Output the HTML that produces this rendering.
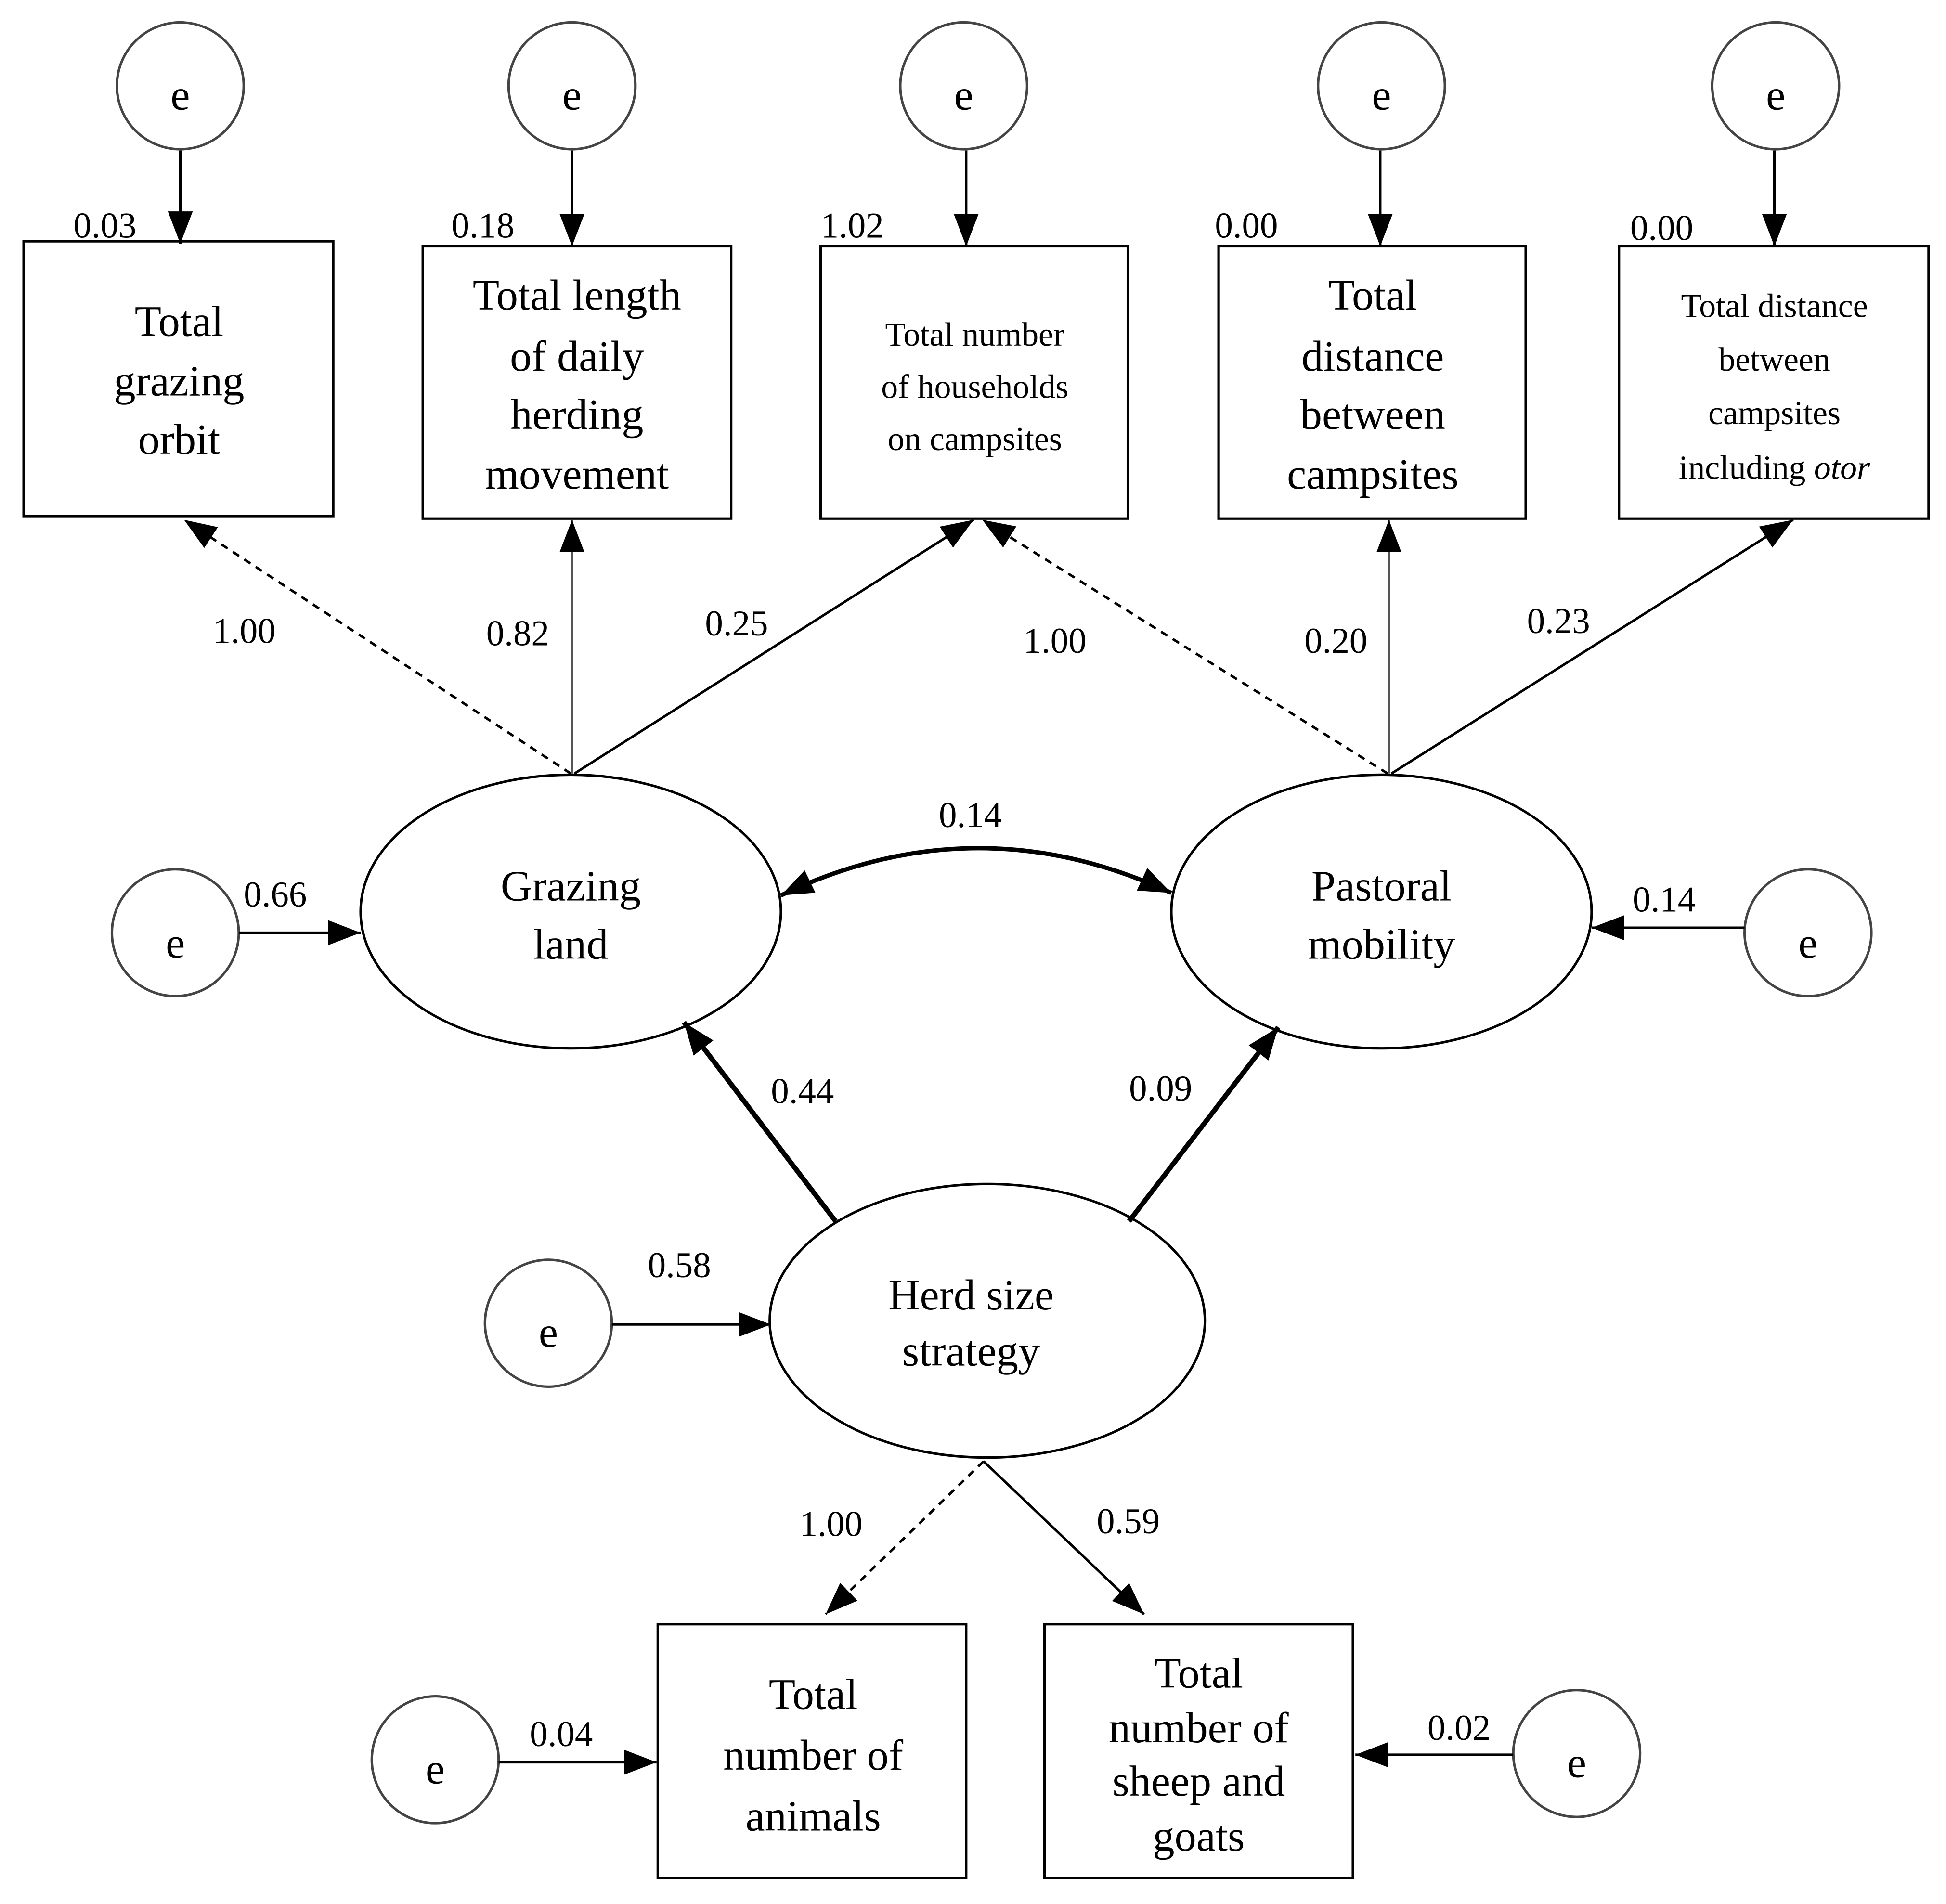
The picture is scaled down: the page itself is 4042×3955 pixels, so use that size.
<!DOCTYPE html>
<html><head><meta charset="utf-8"><style>
html,body{margin:0;padding:0;background:#fff;}
svg{display:block;}
text{font-family:"Liberation Serif",serif;fill:#000;}
.n{font-size:29px;}
.b{font-size:35px;text-anchor:middle;}
.s{font-size:27px;text-anchor:middle;}
</style></head><body>
<svg width="4042" height="3955" viewBox="0 0 1565 1531" preserveAspectRatio="none" xmlns="http://www.w3.org/2000/svg">
<defs>
<marker id="a" markerUnits="userSpaceOnUse" markerWidth="30" markerHeight="24" refX="26" refY="10" orient="auto"><path d="M0,0 L26,10 L0,20 Z" fill="#000"/></marker>
<marker id="as" markerUnits="userSpaceOnUse" markerWidth="30" markerHeight="24" refX="26" refY="10" orient="auto-start-reverse"><path d="M0,0 L26,10 L0,20 Z" fill="#000"/></marker>
</defs>
<g fill="none" stroke="#000" stroke-width="2">
<!-- top e circles -->
<circle cx="145" cy="69" r="51" stroke="#444"/>
<circle cx="460" cy="69" r="51" stroke="#444"/>
<circle cx="775" cy="69" r="51" stroke="#444"/>
<circle cx="1111" cy="69" r="51" stroke="#444"/>
<circle cx="1428" cy="69" r="51" stroke="#444"/>
<line x1="145" y1="121" x2="145" y2="196" marker-end="url(#a)"/>
<line x1="460" y1="121" x2="460" y2="198" marker-end="url(#a)"/>
<line x1="777" y1="121" x2="777" y2="198" marker-end="url(#a)"/>
<line x1="1110" y1="121" x2="1110" y2="198" marker-end="url(#a)"/>
<line x1="1427" y1="121" x2="1427" y2="198" marker-end="url(#a)"/>
<!-- top boxes -->
<rect x="19" y="194" width="249" height="221"/>
<rect x="340" y="198" width="248" height="219"/>
<rect x="660" y="198" width="247" height="219"/>
<rect x="980" y="198" width="247" height="219"/>
<rect x="1302" y="198" width="249" height="219"/>
<!-- ellipses -->
<ellipse cx="459" cy="733" rx="169" ry="110"/>
<ellipse cx="1111" cy="733" rx="169" ry="110"/>
<ellipse cx="794" cy="1062" rx="175" ry="110"/>
<!-- loadings top -->
<line x1="459" y1="622" x2="148" y2="418" stroke-dasharray="6,5" marker-end="url(#a)"/>
<line x1="460" y1="622" x2="460" y2="418" stroke="#555" marker-end="url(#a)"/>
<line x1="462" y1="622" x2="783" y2="418" marker-end="url(#a)"/>
<line x1="1116" y1="622" x2="790" y2="418" stroke-dasharray="6,5" marker-end="url(#a)"/>
<line x1="1117" y1="622" x2="1117" y2="418" stroke="#555" marker-end="url(#a)"/>
<line x1="1119" y1="622" x2="1442" y2="418" marker-end="url(#a)"/>
<!-- covariance -->
<path d="M628,720 Q785,645 942,718" stroke-width="3.5" marker-start="url(#as)" marker-end="url(#a)"/>
<!-- side e -->
<circle cx="141" cy="750" r="51" stroke="#444"/>
<line x1="192" y1="750" x2="290" y2="750" marker-end="url(#a)"/>
<circle cx="1454" cy="750" r="51" stroke="#444"/>
<line x1="1403" y1="746" x2="1280" y2="746" marker-end="url(#a)"/>
<!-- herd paths -->
<line x1="672" y1="982" x2="550" y2="822" stroke-width="4" marker-end="url(#a)"/>
<line x1="908" y1="982" x2="1028" y2="826" stroke-width="4" marker-end="url(#a)"/>
<circle cx="441" cy="1064" r="51" stroke="#444"/>
<line x1="492" y1="1065" x2="620" y2="1065" marker-end="url(#a)"/>
<line x1="791" y1="1175" x2="664" y2="1298" stroke-dasharray="6,5" marker-end="url(#a)"/>
<line x1="791" y1="1175" x2="920" y2="1298" marker-end="url(#a)"/>
<!-- bottom boxes -->
<rect x="529" y="1306" width="248" height="204"/>
<rect x="840" y="1306" width="248" height="204"/>
<circle cx="350" cy="1415" r="51" stroke="#444"/>
<line x1="401" y1="1417" x2="528" y2="1417" marker-end="url(#a)"/>
<circle cx="1268" cy="1410" r="51" stroke="#444"/>
<line x1="1217" y1="1411" x2="1090" y2="1411" marker-end="url(#a)"/>
</g>
<!-- e labels -->
<g class="b">
<text x="145" y="88">e</text><text x="460" y="88">e</text><text x="775" y="88">e</text><text x="1111" y="88">e</text><text x="1428" y="88">e</text>
<text x="141" y="770">e</text><text x="1454" y="770">e</text><text x="441" y="1083">e</text>
<text x="350" y="1434">e</text><text x="1268" y="1429">e</text>
</g>
<!-- numbers -->
<g class="n">
<text x="59" y="191">0.03</text><text x="363" y="191">0.18</text><text x="660" y="191">1.02</text>
<text x="977" y="191">0.00</text><text x="1311" y="193">0.00</text>
<text x="171" y="517">1.00</text><text x="391" y="519">0.82</text><text x="567" y="511">0.25</text>
<text x="823" y="525">1.00</text><text x="1049" y="525">0.20</text><text x="1228" y="509">0.23</text>
<text x="755" y="665">0.14</text><text x="196" y="729">0.66</text><text x="1313" y="733">0.14</text>
<text x="620" y="887">0.44</text><text x="908" y="885">0.09</text><text x="521" y="1027">0.58</text>
<text x="643" y="1235">1.00</text><text x="882" y="1233">0.59</text>
<text x="426" y="1404">0.04</text><text x="1148" y="1399">0.02</text>
</g>
<!-- box texts -->
<g class="b">
<text x="144" y="270">Total</text><text x="144" y="318">grazing</text><text x="144" y="365">orbit</text>
<text x="464" y="249">Total length</text><text x="464" y="298">of daily</text><text x="464" y="345">herding</text><text x="464" y="393">movement</text>
<text x="1104" y="249">Total</text><text x="1104" y="298">distance</text><text x="1104" y="345">between</text><text x="1104" y="393">campsites</text>
<text x="459" y="724">Grazing</text><text x="459" y="771">land</text>
<text x="1111" y="724">Pastoral</text><text x="1111" y="771">mobility</text>
<text x="781" y="1053">Herd size</text><text x="781" y="1098">strategy</text>
<text x="654" y="1374">Total</text><text x="654" y="1423">number of</text><text x="654" y="1472">animals</text>
<text x="964" y="1357">Total</text><text x="964" y="1401">number of</text><text x="964" y="1444">sheep and</text><text x="964" y="1488">goats</text>
</g>
<g class="s">
<text x="784" y="278">Total number</text><text x="784" y="320">of households</text><text x="784" y="362">on campsites</text>
<text x="1427" y="255">Total distance</text><text x="1427" y="298">between</text><text x="1427" y="341">campsites</text><text x="1427" y="385">including <tspan font-style="italic">otor</tspan></text>
</g>
</svg>
</body></html>
